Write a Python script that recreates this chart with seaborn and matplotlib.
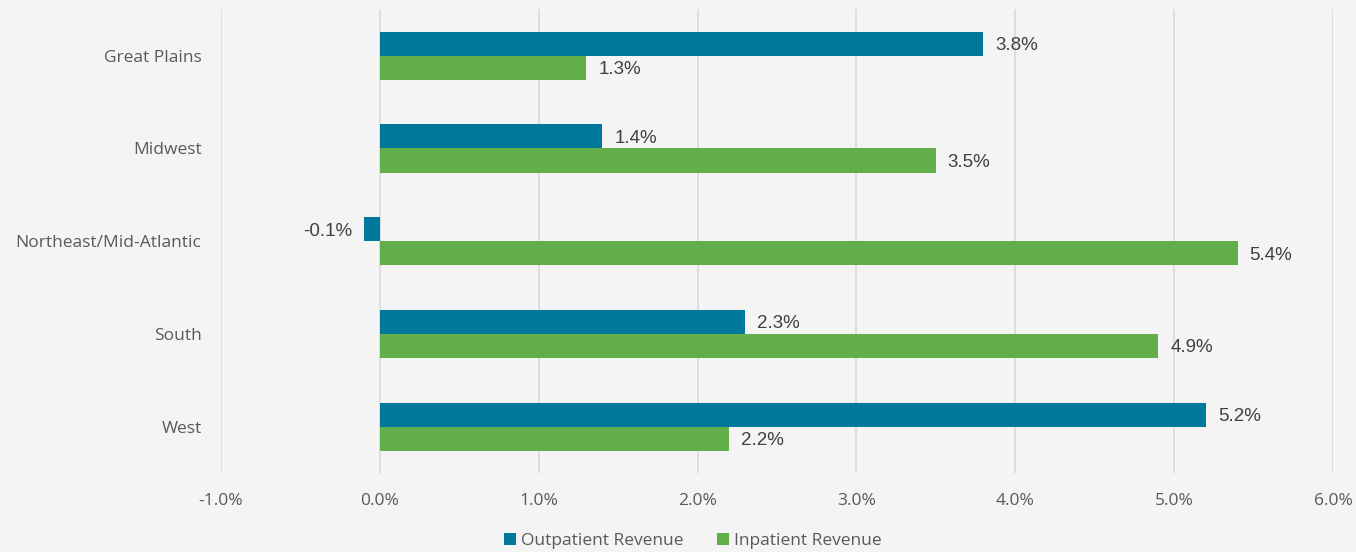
import matplotlib
matplotlib.use("Agg")
import matplotlib.pyplot as plt
import seaborn as sns
import pandas as pd
from matplotlib.ticker import FuncFormatter, MultipleLocator
from matplotlib.patches import Patch

regions = ["Great Plains", "Midwest", "Northeast/Mid-Atlantic", "South", "West"]
outpatient = [3.8, 1.4, -0.1, 2.3, 5.2]
inpatient = [1.3, 3.5, 5.4, 4.9, 2.2]
series_names = ["Outpatient Revenue", "Inpatient Revenue"]
colors = ["#00789c", "#62ae4b"]

df = pd.DataFrame({
    "Region": regions * 2,
    "Value": outpatient + inpatient,
    "Series": [series_names[0]] * len(regions) + [series_names[1]] * len(regions),
})

sns.set_style("white")
plt.rcParams["font.family"] = ["Open Sans", "DejaVu Sans"]

bg = "#f4f4f4"
fig = plt.figure(figsize=(13.56, 5.52), dpi=100, facecolor=bg)
ax = fig.add_axes([0.163, 0.143, 0.82, 0.84], facecolor=bg)

sns.barplot(data=df, y="Region", x="Value", hue="Series", orient="h",
            palette=colors, width=0.52, saturation=1, ax=ax, legend=False,
            errorbar=None, linewidth=0, edgecolor="none")

ax.set_xlim(-1, 6)
ax.set_ylim(4.5, -0.5)
ax.xaxis.set_major_locator(MultipleLocator(1))
ax.xaxis.set_major_formatter(FuncFormatter(lambda v, p: f"{v:.1f}%"))
ax.grid(axis="x", color="#d9d9d9", linewidth=1.2)
ax.set_axisbelow(True)
for s in ax.spines.values():
    s.set_visible(False)
ax.set_xlabel("")
ax.set_ylabel("")
ax.tick_params(axis="both", length=0, labelsize=12.5, labelcolor="#595959")
ax.tick_params(axis="x", pad=14)
ax.tick_params(axis="y", pad=14)

for cont in ax.containers:
    for b in cont:
        w = b.get_width()
        y = b.get_y() + b.get_height() / 2 + 0.02
        lab = f"{w:.1f}%"
        if w >= 0:
            ax.text(w + 0.075, y, lab, va="center", ha="left", fontsize=13.5,
                    color="#404040", family="Liberation Sans")
        else:
            ax.text(w - 0.075, y, lab, va="center", ha="right", fontsize=13.5,
                    color="#404040", family="Liberation Sans")

handles = [Patch(facecolor=c, edgecolor="none") for c in colors]
fig.legend(handles, series_names, loc="center", bbox_to_anchor=(0.511, 0.02),
           ncol=2, frameon=False, fontsize=12.5, labelcolor="#595959",
           handlelength=0.7, handleheight=0.7, handletextpad=0.3, columnspacing=1.9)

fig.savefig("out.png", dpi=100, facecolor=bg)
